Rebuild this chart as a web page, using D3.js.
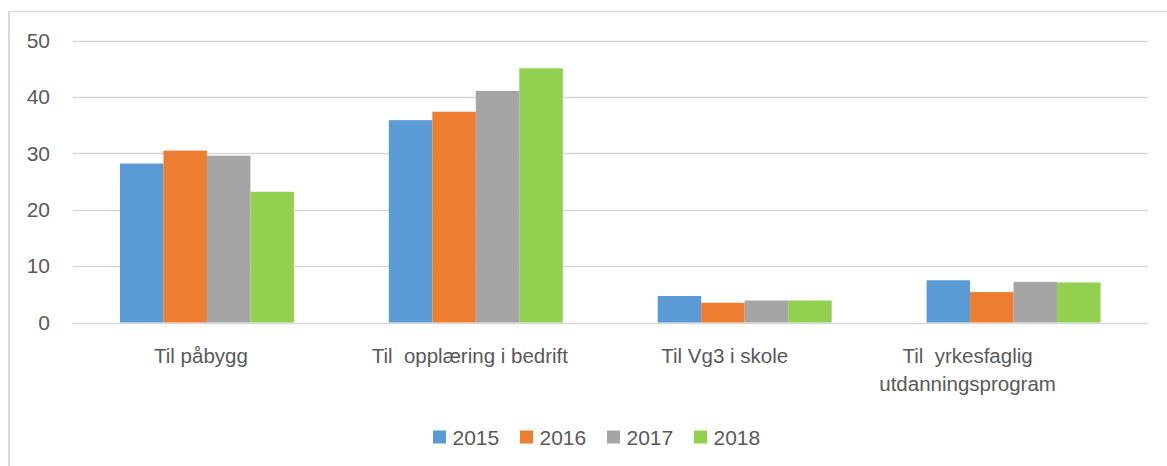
<!DOCTYPE html>
<html>
<head>
<meta charset="utf-8">
<script src="https://cdn.jsdelivr.net/npm/d3@7"></script>
<style>
  html, body { margin: 0; padding: 0; background: #fff; }
  svg { display: block; }
  text { font-family: "Liberation Sans", Arial, sans-serif; fill: #595959; }
</style>
</head>
<body>
<svg id="chart" width="1167" height="466"></svg>
<script>
// ---- Data ----
const categories = ["Til påbygg", "Til  opplæring i bedrift", "Til Vg3 i skole", "Til  yrkesfaglig utdanningsprogram"];
const years = ["2015", "2016", "2017", "2018"];
const values2015 = [28.2, 35.9, 4.7, 7.5];
const values2016 = [30.5, 37.4, 3.5, 5.4];
const values2017 = [29.6, 41.1, 3.9, 7.2];
const values2018 = [23.2, 45.1, 3.9, 7.1];
const yTicks = [0, 10, 20, 30, 40, 50];

const seriesValues = [values2015, values2016, values2017, values2018];
const colors = ["#5b9bd5", "#ed7d31", "#a5a5a5", "#92d050"];

// ---- Layout ----
const W = 1167, H = 466;
const plot = { left: 72.5, right: 1148, top: 40.7, bottom: 322.5 };
const labelLines = [["Til påbygg"], ["Til  opplæring i bedrift"], ["Til Vg3 i skole"], ["Til  yrkesfaglig", "utdanningsprogram"]];
const labelShift = [-6, -6, -20, -46];

const svg = d3.select("#chart");

// chart border (top and left visible)
svg.append("line").attr("x1", 9).attr("x2", W).attr("y1", 11.5).attr("y2", 11.5)
  .attr("stroke", "#d9d9d9").attr("stroke-width", 1.5);
svg.append("line").attr("x1", 9).attr("x2", 9).attr("y1", 11).attr("y2", H)
  .attr("stroke", "#d9d9d9").attr("stroke-width", 2);

const x0 = d3.scaleBand().domain(categories).range([plot.left, plot.right])
  .paddingInner(0.353).paddingOuter(0.1765);
const x1 = d3.scaleBand().domain(years).range([0, x0.bandwidth()]).padding(0);
const y = d3.scaleLinear().domain([0, 50]).range([plot.bottom, plot.top]);

// gridlines
svg.append("g").selectAll("line").data(yTicks).join("line")
  .attr("x1", plot.left).attr("x2", plot.right)
  .attr("y1", d => Math.round(y(d)) + 0.5).attr("y2", d => Math.round(y(d)) + 0.5)
  .attr("stroke", "#d9d9d9").attr("stroke-width", 1.3);

// y axis labels
const yAxis = d3.axisLeft(y).tickValues(yTicks).tickSize(0).tickPadding(0);
const gy = svg.append("g").attr("transform", `translate(50,0)`).call(yAxis);
gy.select(".domain").remove();
gy.selectAll("text").attr("font-size", 21).attr("fill", "#595959")
  .style("font-family", "'Liberation Sans', Arial, sans-serif");

// bars
const groups = svg.append("g").selectAll("g").data(categories).join("g")
  .attr("transform", d => `translate(${x0(d)},0)`);
groups.selectAll("rect").data((c, ci) => years.map((yr, si) => ({ yr, v: seriesValues[si][ci], si })))
  .join("rect")
  .attr("x", d => x1(d.yr))
  .attr("width", x1.bandwidth())
  .attr("y", d => y(d.v))
  .attr("height", d => y(0) - y(d.v))
  .attr("fill", d => colors[d.si]);

// category labels
categories.forEach((c, i) => {
  const cx = x0(c) + x0.bandwidth() / 2 + labelShift[i];
  const t = svg.append("text").attr("text-anchor", "middle").attr("font-size", 20.5)
    .attr("xml:space", "preserve").style("white-space", "pre");
  labelLines[i].forEach((ln, li) => {
    t.append("tspan").attr("x", cx).attr("y", 362.5 + li * 28.5).text(ln);
  });
});

// legend
const legendX = [433, 520, 607, 694];
const lg = svg.append("g").selectAll("g").data(years).join("g")
  .attr("transform", (d, i) => `translate(${legendX[i]},0)`);
lg.append("rect").attr("x", 0).attr("y", 430.5).attr("width", 13).attr("height", 13)
  .attr("fill", (d, i) => colors[i]);
lg.append("text").attr("x", 19.5).attr("y", 444.5).attr("font-size", 21).text(d => d);
</script>
</body>
</html>
